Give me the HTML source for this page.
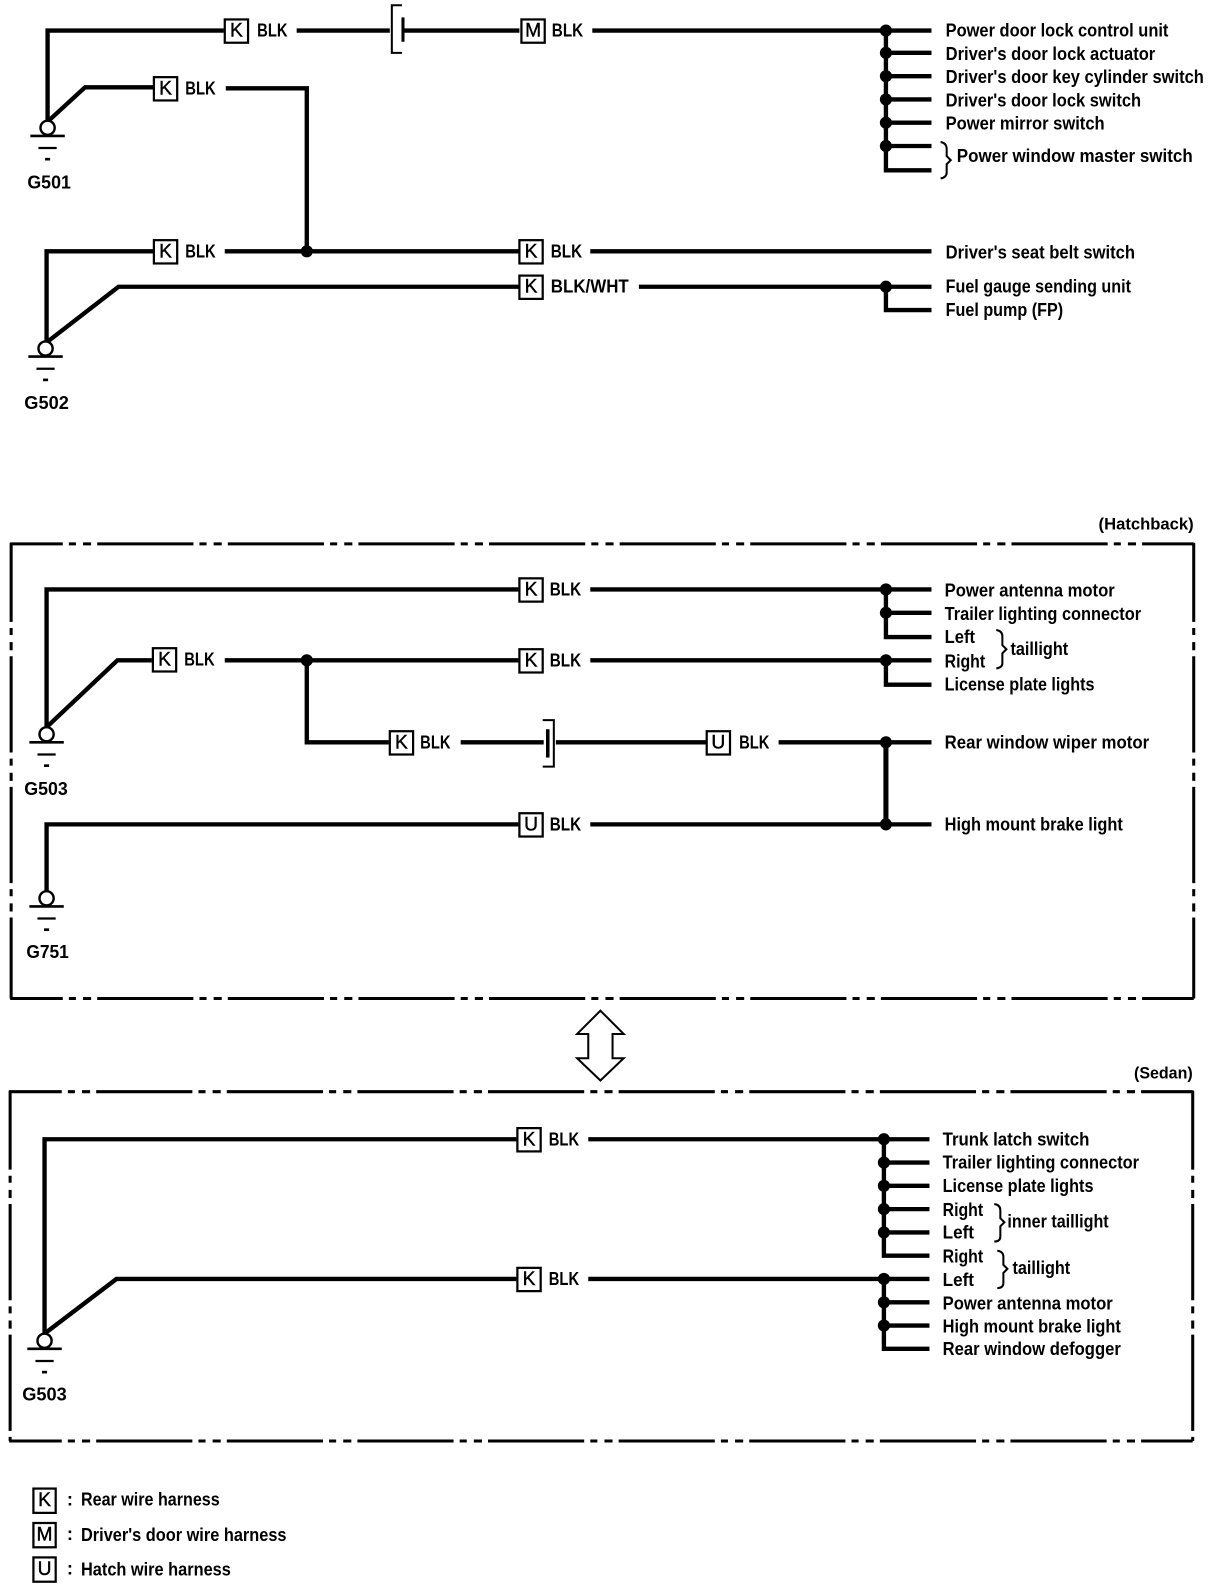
<!DOCTYPE html>
<html><head><meta charset="utf-8"><title>Ground distribution diagram</title>
<style>
html,body{margin:0;padding:0;background:#fff}
svg{display:block}
text{font-family:"Liberation Sans",sans-serif;font-size:18px;font-weight:bold;dominant-baseline:central;fill:#000}
.w{fill:none;stroke:#000;stroke-width:4.300;stroke-linejoin:miter}
.f{fill:none;stroke:#000;stroke-width:3;stroke-dasharray:95 6 7 7 8 6;stroke-dashoffset:43}
.b{fill:#fff;stroke:#000;stroke-width:2.200}
.t{font-weight:normal;font-size:19px;text-anchor:middle;stroke:#000;stroke-width:.4}
.th{fill:none;stroke:#000;stroke-width:2}
</style></head><body>
<svg xmlns="http://www.w3.org/2000/svg" width="1216" height="1588" viewBox="0 0 1201 1568">
<rect width="1201" height="1568" fill="#fff"/>
<defs>
<g id="gnd"><circle cx="0" cy="0" r="7" fill="#fff" stroke="#000" stroke-width="2.400"/><path d="M-17 8H17" stroke="#000" stroke-width="2.600"/><path d="M-9 20H9" stroke="#000" stroke-width="2.200"/><path d="M-2.500 31H2.500" stroke="#000" stroke-width="2.600"/></g>
</defs>

<!-- TOP SECTION -->
<path class="w" d="M47 120V30H221M293 30H385M399 30H513M585 30H920"/>
<path class="w" d="M47 120L84 86H152M223 87H303V248"/>
<path class="w" d="M46 338V248H152M222 248H513M583 248H920"/>
<path class="w" d="M46 338L117 283H513M631 283H920"/>
<path class="w" d="M875 30V168H920M875 52H920M875 75H920M875 98H920M875 121H920M875 144H920"/>
<path class="w" d="M875 283V306H920"/>
<g><circle cx="875" cy="30" r="6"/><circle cx="875" cy="52" r="6"/><circle cx="875" cy="75" r="6"/><circle cx="875" cy="98" r="6"/><circle cx="875" cy="121" r="6"/><circle cx="875" cy="144" r="6"/><circle cx="875" cy="283" r="6"/><circle cx="303" cy="248" r="6"/></g>
<path class="th" d="M397 5H387V52H397"/><path d="M398 17V41" stroke="#000" stroke-width="3"/>
<use href="#gnd" x="47" y="126"/><use href="#gnd" x="45" y="344"/>
<text x="27" y="180" textLength="43" lengthAdjust="spacingAndGlyphs">G501</text>
<text x="24" y="398" textLength="44" lengthAdjust="spacingAndGlyphs">G502</text>

<rect class="b" x="222" y="19" width="23" height="23"/><text class="t" x="233.500" y="30.500">K</text><text x="254" y="30" textLength="30" lengthAdjust="spacingAndGlyphs">BLK</text>
<rect class="b" x="515" y="19" width="23" height="23"/><text class="t" x="526.500" y="30.500">M</text><text x="545" y="30" textLength="31" lengthAdjust="spacingAndGlyphs">BLK</text>
<rect class="b" x="152" y="76" width="23" height="23"/><text class="t" x="163.500" y="87.500">K</text><text x="183" y="87" textLength="30" lengthAdjust="spacingAndGlyphs">BLK</text>
<rect class="b" x="152" y="237" width="23" height="23"/><text class="t" x="163.500" y="248.500">K</text><text x="183" y="248" textLength="30" lengthAdjust="spacingAndGlyphs">BLK</text>
<rect class="b" x="513" y="237" width="23" height="23"/><text class="t" x="524.500" y="248.500">K</text><text x="544" y="248" textLength="31" lengthAdjust="spacingAndGlyphs">BLK</text>
<rect class="b" x="513" y="272" width="23" height="23"/><text class="t" x="524.500" y="283.500">K</text><text x="544" y="283" textLength="77" lengthAdjust="spacingAndGlyphs">BLK/WHT</text>

<text x="934" y="30" textLength="220" lengthAdjust="spacingAndGlyphs">Power door lock control unit</text>
<text x="934" y="53" textLength="207" lengthAdjust="spacingAndGlyphs">Driver's door lock actuator</text>
<text x="934" y="76" textLength="255" lengthAdjust="spacingAndGlyphs">Driver's door key cylinder switch</text>
<text x="934" y="99" textLength="193" lengthAdjust="spacingAndGlyphs">Driver's door lock switch</text>
<text x="934" y="122" textLength="157" lengthAdjust="spacingAndGlyphs">Power mirror switch</text>
<text x="945" y="154" textLength="233" lengthAdjust="spacingAndGlyphs">Power window master switch</text>
<path class="th" d="M929 140Q935 141 935 147V154L939 158L935 162V170Q935 175 929 176"/>
<text x="934" y="249" textLength="187" lengthAdjust="spacingAndGlyphs">Driver's seat belt switch</text>
<text x="934" y="283" textLength="183" lengthAdjust="spacingAndGlyphs">Fuel gauge sending unit</text>
<text x="934" y="306" textLength="116" lengthAdjust="spacingAndGlyphs">Fuel pump (FP)</text>

<!-- HATCHBACK -->
<text x="1085" y="518" textLength="94" lengthAdjust="spacingAndGlyphs" style="font-size:16px">(Hatchback)</text>
<path class="f" d="M10 537H1179"/><path class="f" d="M10 986H1179"/>
<path class="f" d="M11 536V986" style="stroke-dashoffset:17"/><path class="f" d="M1179 536V986" style="stroke-dashoffset:17"/>

<path class="w" d="M46 718V582H512M583 582H920"/>
<path class="w" d="M46 718L116 652H150M222 652H512M583 652H920"/>
<path class="w" d="M303 652V733H384M455 733H537M549 733H698M769 733H920"/>
<path class="w" d="M46 880V814H512M583 814H920"/>
<path class="w" d="M875 582V629H920M875 605H920"/>
<path class="w" d="M875 652V676H920"/>
<path class="w" d="M875 733V814" style="stroke-width:5"/>
<g><circle cx="875" cy="582" r="6"/><circle cx="875" cy="605" r="6"/><circle cx="875" cy="652" r="6"/><circle cx="875" cy="733" r="6"/><circle cx="875" cy="814" r="6"/><circle cx="303" cy="652" r="6"/></g>
<path class="th" d="M536 711H547V757H536"/><path d="M541 720V748" stroke="#000" stroke-width="3.500"/>
<use href="#gnd" x="46" y="725"/><use href="#gnd" x="46" y="887"/>
<text x="24" y="779" textLength="43" lengthAdjust="spacingAndGlyphs">G503</text>
<text x="26" y="940" textLength="42" lengthAdjust="spacingAndGlyphs">G751</text>

<rect class="b" x="513" y="571" width="23" height="23"/><text class="t" x="524.500" y="582.500">K</text><text x="543" y="582" textLength="31" lengthAdjust="spacingAndGlyphs">BLK</text>
<rect class="b" x="151" y="640" width="23" height="23"/><text class="t" x="162.500" y="651.500">K</text><text x="182" y="651" textLength="30" lengthAdjust="spacingAndGlyphs">BLK</text>
<rect class="b" x="513" y="641" width="23" height="23"/><text class="t" x="524.500" y="652.500">K</text><text x="543" y="652" textLength="31" lengthAdjust="spacingAndGlyphs">BLK</text>
<rect class="b" x="385" y="722" width="23" height="23"/><text class="t" x="396.500" y="733.500">K</text><text x="415" y="733" textLength="30" lengthAdjust="spacingAndGlyphs">BLK</text>
<rect class="b" x="698" y="722" width="23" height="23"/><text class="t" x="709.500" y="733.500">U</text><text x="730" y="733" textLength="30" lengthAdjust="spacingAndGlyphs">BLK</text>
<rect class="b" x="513" y="803" width="23" height="23"/><text class="t" x="524.500" y="814.500">U</text><text x="543" y="814" textLength="31" lengthAdjust="spacingAndGlyphs">BLK</text>

<text x="933" y="583" textLength="168" lengthAdjust="spacingAndGlyphs">Power antenna motor</text>
<text x="933" y="606" textLength="194" lengthAdjust="spacingAndGlyphs">Trailer lighting connector</text>
<text x="933" y="629" textLength="30" lengthAdjust="spacingAndGlyphs">Left</text>
<text x="933" y="653" textLength="40" lengthAdjust="spacingAndGlyphs">Right</text>
<text x="933" y="676" textLength="148" lengthAdjust="spacingAndGlyphs">License plate lights</text>
<path class="th" d="M984 622Q990 623 990 628V637L994 641L990 645V655Q990 659 984 660"/>
<text x="998" y="641" textLength="57" lengthAdjust="spacingAndGlyphs">taillight</text>
<text x="933" y="733" textLength="202" lengthAdjust="spacingAndGlyphs">Rear window wiper motor</text>
<text x="933" y="814" textLength="176" lengthAdjust="spacingAndGlyphs">High mount brake light</text>

<!-- DOUBLE ARROW -->
<path d="M593 998L616 1021H605V1045H616L593 1067L570 1045H581V1021H570Z" fill="#fff" stroke="#000" stroke-width="2"/>

<!-- SEDAN -->
<text x="1120" y="1060" textLength="58" lengthAdjust="spacingAndGlyphs" style="font-size:16px">(Sedan)</text>
<path class="f" d="M9 1078H1178"/><path class="f" d="M9 1423H1178"/>
<path class="f" d="M10 1077V1423" style="stroke-dashoffset:17"/><path class="f" d="M1178 1077V1423" style="stroke-dashoffset:17"/>

<path class="w" d="M44 1317V1125H510M581 1125H918"/>
<path class="w" d="M44 1317L115 1263H510M581 1263H918"/>
<path class="w" d="M873 1125V1240H918M873 1148H918M873 1171H918M873 1194H918M873 1217H918"/>
<path class="w" d="M873 1263V1332H918M873 1286H918M873 1309H918"/>
<g><circle cx="873" cy="1125" r="6"/><circle cx="873" cy="1148" r="6"/><circle cx="873" cy="1171" r="6"/><circle cx="873" cy="1194" r="6"/><circle cx="873" cy="1217" r="6"/><circle cx="873" cy="1263" r="6"/><circle cx="873" cy="1286" r="6"/><circle cx="873" cy="1309" r="6"/></g>
<use href="#gnd" x="44" y="1324"/>
<text x="22" y="1377" textLength="44" lengthAdjust="spacingAndGlyphs">G503</text>

<rect class="b" x="511" y="1114" width="23" height="23"/><text class="t" x="522.500" y="1125.500">K</text><text x="542" y="1125" textLength="30" lengthAdjust="spacingAndGlyphs">BLK</text>
<rect class="b" x="511" y="1252" width="23" height="23"/><text class="t" x="522.500" y="1263.500">K</text><text x="542" y="1263" textLength="30" lengthAdjust="spacingAndGlyphs">BLK</text>

<text x="931" y="1125" textLength="145" lengthAdjust="spacingAndGlyphs">Trunk latch switch</text>
<text x="931" y="1148" textLength="194" lengthAdjust="spacingAndGlyphs">Trailer lighting connector</text>
<text x="931" y="1171" textLength="149" lengthAdjust="spacingAndGlyphs">License plate lights</text>
<text x="931" y="1195" textLength="40" lengthAdjust="spacingAndGlyphs">Right</text>
<text x="931" y="1217" textLength="31" lengthAdjust="spacingAndGlyphs">Left</text>
<path class="th" d="M982 1189Q988 1190 988 1195V1203L992 1207L988 1211V1221Q988 1226 982 1226"/>
<text x="995" y="1206" textLength="100" lengthAdjust="spacingAndGlyphs">inner taillight</text>
<text x="931" y="1241" textLength="40" lengthAdjust="spacingAndGlyphs">Right</text>
<text x="931" y="1264" textLength="31" lengthAdjust="spacingAndGlyphs">Left</text>
<path class="th" d="M985 1235Q991 1236 991 1241V1249L995 1253L991 1257V1267Q991 1272 985 1272"/>
<text x="1000" y="1252" textLength="57" lengthAdjust="spacingAndGlyphs">taillight</text>
<text x="931" y="1287" textLength="168" lengthAdjust="spacingAndGlyphs">Power antenna motor</text>
<text x="931" y="1310" textLength="176" lengthAdjust="spacingAndGlyphs">High mount brake light</text>
<text x="931" y="1332" textLength="176" lengthAdjust="spacingAndGlyphs">Rear window defogger</text>

<!-- LEGEND -->
<rect class="b" x="33" y="1470" width="22" height="24"/><text class="t" x="44" y="1482">K</text><text x="66" y="1481">:</text><text x="80" y="1481" textLength="137" lengthAdjust="spacingAndGlyphs">Rear wire harness</text>
<rect class="b" x="33" y="1504" width="22" height="24"/><text class="t" x="44" y="1516">M</text><text x="66" y="1515">:</text><text x="80" y="1516" textLength="203" lengthAdjust="spacingAndGlyphs">Driver's door wire harness</text>
<rect class="b" x="33" y="1538" width="22" height="24"/><text class="t" x="44" y="1550">U</text><text x="66" y="1549">:</text><text x="80" y="1550" textLength="148" lengthAdjust="spacingAndGlyphs">Hatch wire harness</text>
</svg>
</body></html>
